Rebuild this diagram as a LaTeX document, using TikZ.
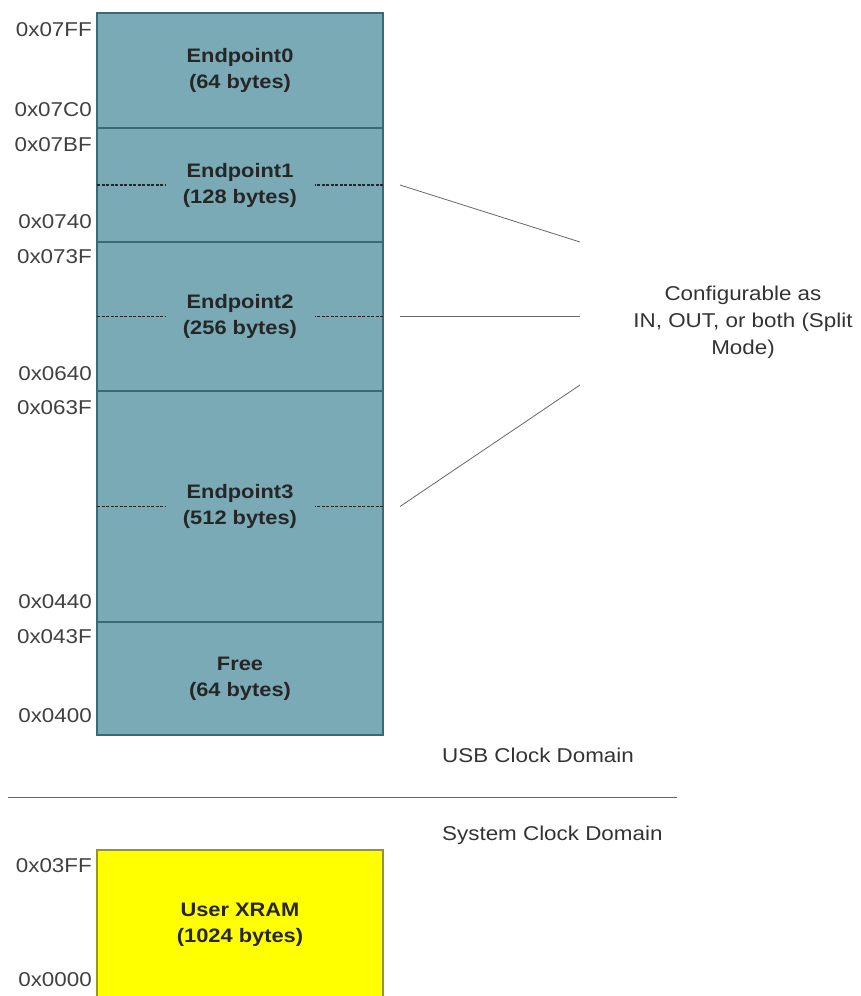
\documentclass[tikz,border=0pt]{standalone}
\usepackage{fontspec}
\setmainfont{Liberation Sans}[FakeStretch=1.12]
\usetikzlibrary{positioning,calc}
\definecolor{epteal}{RGB}{122,170,182}
\definecolor{epedge}{RGB}{60,105,118}
\definecolor{xyellow}{RGB}{255,255,0}
\definecolor{xedge}{RGB}{150,150,40}

\begin{document}
\begin{tikzpicture}[x=1pt,y=-1pt,
    blk/.style={draw=epedge,fill=epteal,line width=1.2pt,outer sep=0pt,minimum width=286pt,inner sep=0pt,anchor=north west,align=center,font=\bfseries\fontsize{19.5}{26}\selectfont,text=black!85},
    adr/.style={anchor=east,inner sep=0pt,font=\fontsize{20}{22}\selectfont,text=black!75},
    dsh/.style={dash pattern=on 3pt off 1.5pt,line width=1.4pt,black!85},
    lnk/.style={black!60,line width=0.8pt},
    lbl/.style={font=\fontsize{20}{27}\selectfont,text=black!80,align=center}]
    \useasboundingbox (0,0) rectangle (861,996);
    \clip (0,0) rectangle (861,996);
    % USB clock domain buffers
    \node[blk,minimum height=115pt] (ep0) at (97,13) {Endpoint0\\(64 bytes)};
    \node[blk,minimum height=114pt,below=0pt of ep0] (ep1) {Endpoint1\\(128 bytes)};
    \node[blk,minimum height=149pt,below=0pt of ep1] (ep2) {Endpoint2\\(256 bytes)};
    \node[blk,minimum height=231pt,below=0pt of ep2] (ep3) {Endpoint3\\(512 bytes)};
    \node[blk,minimum height=113pt,below=0pt of ep3] (free) {Free\\(64 bytes)};
    % split marks
    \foreach \e in {ep1,ep2,ep3}{
      \draw[dsh] (\e.west) -- ++(68,0); \draw[dsh] (\e.east) -- ++(-68,0);
    }
    % addresses
    \node[adr] (a07ff) at (92,30) {0x07FF};
    \node[adr] (a07c0) at (92,110) {0x07C0};
    \node[adr] (a07bf) at (92,145) {0x07BF};
    \node[adr] (a0740) at (92,222) {0x0740};
    \node[adr] (a073f) at (92,257) {0x073F};
    \node[adr] (a0640) at (92,374) {0x0640};
    \node[adr] (a063f) at (92,408) {0x063F};
    \node[adr] (a0440) at (92,602) {0x0440};
    \node[adr] (a043f) at (92,637) {0x043F};
    \node[adr] (a0400) at (92,716) {0x0400};
    % split mode note
    \node[lbl] (cfg) at (743,322) {Configurable as\\IN, OUT, or both (Split\\Mode)};
    \coordinate (t1) at (580,242); \coordinate (t3) at (580,385);
    \coordinate (t2) at ($(ep2.east)+(197,0)$);
    \draw[lnk] ([xshift=17pt]ep1.east) -- (t1);
    \draw[lnk] ([xshift=17pt]ep2.east) -- (t2);
    \draw[lnk] ([xshift=17pt]ep3.east) -- (t3);
    % clock domains
    \node[lbl,anchor=west,inner sep=0pt] (usb) at (442,755) {USB Clock Domain};
    \node[lbl,anchor=west,inner sep=0pt] (sys) at (442,835) {System Clock Domain};
    \coordinate (dl) at (8,797); \coordinate (dr) at (677,797);
    \draw[lnk] (dl) -- (dr);
    % system clock domain
    \node[blk,fill=xyellow,draw=xedge,minimum height=150pt] (xram) at (97,850) {User XRAM\\(1024 bytes)};
    \node[adr] (a03ff) at (92,866) {0x03FF};
    \node[adr] (a0000) at (92,980) {0x0000};
  \end{tikzpicture}
\end{document}
